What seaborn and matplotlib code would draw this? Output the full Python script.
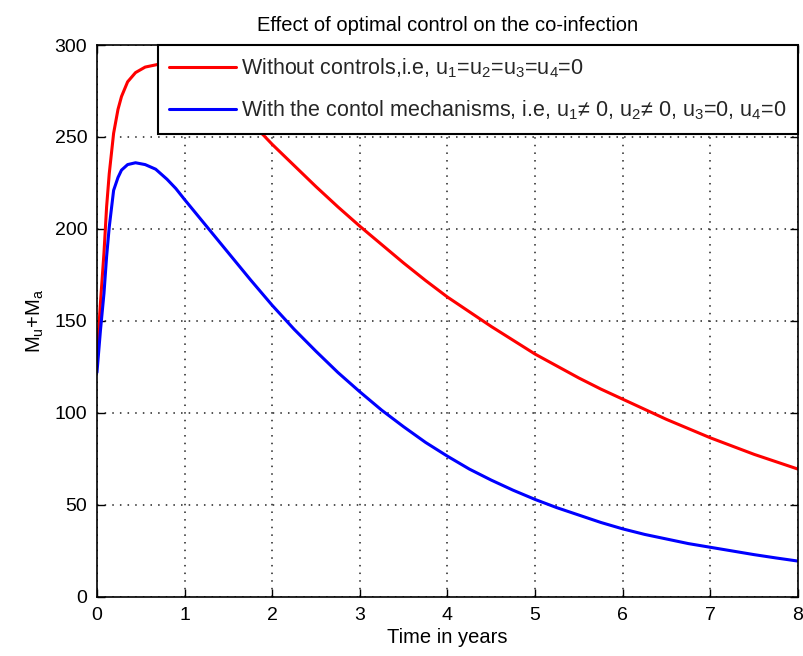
import numpy as np
import pandas as pd
import matplotlib
matplotlib.use("Agg")
import matplotlib.pyplot as plt
import seaborn as sns

# Data
t_red = [0.0, 0.04, 0.08, 0.11, 0.14, 0.19, 0.24, 0.28, 0.35, 0.44, 0.55, 0.7, 0.85, 1.0, 1.25, 1.5, 1.75, 1.9,
         2.0, 2.25, 2.5, 2.75, 3.0, 3.25, 3.5, 3.75, 4.0, 4.25, 4.5, 4.75, 5.0, 5.25, 5.5, 5.75, 6.0,
         6.25, 6.5, 6.75, 7.0, 7.25, 7.5, 7.75, 8.0]
y_red = [130, 160, 187, 212, 230, 252, 265, 272, 280, 285, 288, 289.5, 289, 286, 279, 269, 258, 251,
         246, 234.5, 223, 212, 201.5, 191.5, 181.5, 172, 163, 155, 147, 139.5, 132, 125.5, 119, 113, 107.5,
         102, 96.5, 91.5, 86.5, 82, 77.5, 73.5, 69.5]

t_blue = [0.0, 0.04, 0.08, 0.11, 0.14, 0.19, 0.24, 0.28, 0.35, 0.44, 0.55, 0.67, 0.8, 0.9, 1.0, 1.25, 1.5, 1.75,
          2.0, 2.25, 2.5, 2.75, 3.0, 3.25, 3.5, 3.75, 4.0, 4.25, 4.5, 4.75, 5.0, 5.25, 5.5, 5.75, 6.0,
          6.25, 6.5, 6.75, 7.0, 7.25, 7.5, 7.75, 8.0]
y_blue = [122, 145, 165, 185, 201, 221, 228, 232, 235, 236, 235, 232.5, 227, 222, 216, 201.5, 187, 172.5,
          158.5, 145.5, 133.5, 122, 111.5, 101.5, 92.5, 84, 76.5, 69.5, 63.5, 58, 53, 48.5, 44.5, 40.5, 37,
          34, 31.5, 29, 27, 25, 23, 21.2, 19.5]

labels = ["Without controls,i.e, u$_1$=u$_2$=u$_3$=u$_4$=0",
          "With the contol mechanisms, i.e, u$_1$≠ 0, u$_2$≠ 0, u$_3$=0, u$_4$=0"]
colors = ["#ff0000", "#0000ff"]

df = pd.concat([
    pd.DataFrame({"t": t_red, "v": y_red, "s": labels[0]}),
    pd.DataFrame({"t": t_blue, "v": y_blue, "s": labels[1]}),
], ignore_index=True)

sns.set_theme(style="white")
plt.rcParams["font.family"] = ["Liberation Sans", "DejaVu Sans"]
plt.rcParams["mathtext.fontset"] = "custom"
plt.rcParams["mathtext.rm"] = "Liberation Sans"
plt.rcParams["mathtext.it"] = "Liberation Sans"

fig = plt.figure(figsize=(8.04, 6.56), dpi=100)
ax = fig.add_axes([0.1206, 0.09, 0.8719, 0.8414])

sns.lineplot(data=df, x="t", y="v", hue="s", palette=dict(zip(labels, colors)),
             linewidth=2.2, ax=ax, sort=True, estimator=None)

ax.set_xlim(0, 8)
ax.set_ylim(0, 300)
ax.set_xticks(range(0, 9))
ax.set_yticks(range(0, 301, 50))
ax.grid(True, linestyle=(0, (1, 4)), color="#222222", linewidth=1.1)
ax.tick_params(direction="in", length=6, width=1, colors="black", labelsize=14, pad=7,
               top=True, right=True, bottom=True, left=True)
for sp in ax.spines.values():
    sp.set_visible(True)
    sp.set_color("black")
    sp.set_linewidth(1.2)

ax.set_xlabel("Time in years", fontsize=14.5, color="black", labelpad=3)
ax.set_ylabel("M$_u$+M$_a$", fontsize=14.5, color="black", labelpad=6)
ax.set_title("Effect of optimal control on the co-infection", fontsize=14.5, color="black", pad=10)

leg = ax.legend(loc="upper right", bbox_to_anchor=(1.0, 1.0), fontsize=15.5, frameon=True,
                fancybox=False, edgecolor="black", borderaxespad=0.0, borderpad=0.55,
                handlelength=3.1, labelspacing=0.85, handletextpad=0.2, title=None)
leg.get_frame().set_linewidth(1.5)
leg.get_frame().set_alpha(1.0)

fig.savefig("out.png", dpi=100, facecolor="white")
